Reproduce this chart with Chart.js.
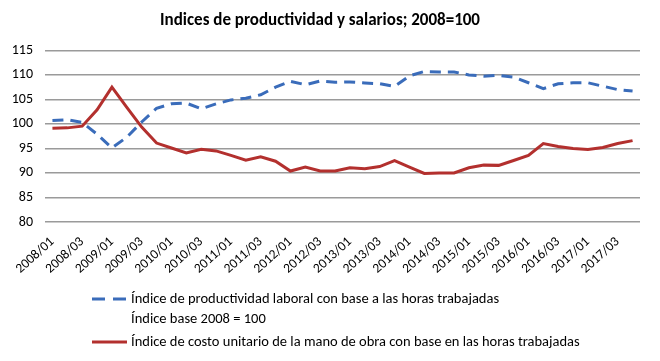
<!DOCTYPE html>
<html lang="es">
<head>
<meta charset="UTF-8">
<title>Indices de productividad y salarios</title>
<script src="https://cdn.jsdelivr.net/npm/chart.js"></script>
<style>
    html, body { margin: 0; padding: 0; background: #fff; }
</style>
</head>
<body>
<canvas id="grafico" width="660" height="361"></canvas>
<script>
// Trimestres 2008/01 - 2017/04
const trimestres = [
    '2008/01', '2008/02', '2008/03', '2008/04',
    '2009/01', '2009/02', '2009/03', '2009/04',
    '2010/01', '2010/02', '2010/03', '2010/04',
    '2011/01', '2011/02', '2011/03', '2011/04',
    '2012/01', '2012/02', '2012/03', '2012/04',
    '2013/01', '2013/02', '2013/03', '2013/04',
    '2014/01', '2014/02', '2014/03', '2014/04',
    '2015/01', '2015/02', '2015/03', '2015/04',
    '2016/01', '2016/02', '2016/03', '2016/04',
    '2017/01', '2017/02', '2017/03', '2017/04'
];

// Índice de productividad laboral (horas trabajadas)
const productividad = [
    100.7, 100.85, 100.3, 97.9, 95.1, 97.3, 100.4, 103.2, 104.1, 104.25,
    103.1, 104.1, 104.9, 105.25, 105.95, 107.5, 108.7, 108.0, 108.75, 108.5,
    108.55, 108.35, 108.2, 107.65, 109.8, 110.7, 110.6, 110.6, 110.0, 109.75,
    109.9, 109.55, 108.4, 107.2, 108.2, 108.4, 108.4, 107.7, 107.0, 106.7
];

// Índice de costo unitario de la mano de obra (horas trabajadas)
const costoUnitario = [
    99.1, 99.2, 99.55, 102.9, 107.5, 103.4, 99.35, 96.1, 95.1, 94.1,
    94.85, 94.5, 93.6, 92.6, 93.3, 92.4, 90.4, 91.2, 90.4, 90.4,
    91.05, 90.85, 91.3, 92.5, 91.2, 89.9, 90.0, 90.0, 91.05, 91.6,
    91.55, 92.55, 93.6, 96.0, 95.4, 95.0, 94.8, 95.2, 96.0, 96.6
];

const ejeYMin = 80;
const ejeYMax = 115;
const ejeYPaso = 5;

const titulo = 'Indices de productividad y salarios; 2008=100';
const leyendaProductividad = [
    'Índice de productividad laboral con base a las horas trabajadas',
    'Índice base 2008 = 100'
];
const leyendaCosto = [
    'Índice de costo unitario de la mano de obra con base en las horas trabajadas'
];

const fuente = 'Carlito, Calibri, "Liberation Sans", sans-serif';

// leyenda dibujada a mano (el texto va en dos renglones)
const leyenda = {
    id: 'leyenda',
    afterDraw(chart) {
        const ctx = chart.ctx;
        const items = [
            { ds: chart.data.datasets[0], lineas: leyendaProductividad, y: 299, dash: [13, 8] },
            { ds: chart.data.datasets[1], lineas: leyendaCosto, y: 342, dash: [] }
        ];
        ctx.save();
        ctx.font = '14.5px ' + fuente;
        ctx.fillStyle = '#000';
        ctx.textBaseline = 'middle';
        items.forEach(it => {
            ctx.strokeStyle = it.ds.borderColor;
            ctx.lineWidth = it.ds.borderWidth;
            ctx.setLineDash(it.dash);
            ctx.beginPath();
            ctx.moveTo(92, it.y);
            ctx.lineTo(127, it.y);
            ctx.stroke();
            it.lineas.forEach((t, k) => ctx.fillText(t, 131, it.y + k * 20));
        });
        ctx.restore();
    }
};

const ctx = document.getElementById('grafico').getContext('2d');
new Chart(ctx, {
    type: 'line',
    data: {
        labels: trimestres,
        datasets: [{
            label: leyendaProductividad.join(' '),
            data: productividad,
            borderColor: '#3a6cba',
            borderWidth: 3,
            borderDash: [11, 7],
            pointRadius: 0,
            fill: false,
            tension: 0
        }, {
            label: leyendaCosto[0],
            data: costoUnitario,
            borderColor: '#b3302e',
            borderWidth: 3,
            pointRadius: 0,
            fill: false,
            tension: 0
        }]
    },
    options: {
        responsive: false,
        animation: false,
        devicePixelRatio: 1,
        layout: { padding: { left: 0, right: 20, top: 0, bottom: 0 } },
        plugins: {
            legend: { display: false },
            tooltip: { enabled: false },
            title: {
                display: true,
                text: titulo,
                color: '#000',
                font: { family: fuente, size: 17, weight: 'bold' },
                padding: { top: 11, bottom: 19 }
            }
        },
        scales: {
            x: {
                offset: true,
                grid: { display: false },
                border: { display: false },
                afterFit(scale) { scale.height = 139; },
                ticks: {
                    autoSkip: false,
                    maxRotation: 42,
                    minRotation: 42,
                    padding: 4,
                    color: '#000',
                    font: { family: fuente, size: 13.5 },
                    callback(val, i) { return i % 2 === 0 ? this.getLabelForValue(val) : ''; }
                }
            },
            y: {
                min: ejeYMin,
                max: ejeYMax,
                border: { display: false },
                grid: { color: '#9a9a9a', lineWidth: 1.5, drawTicks: false },
                afterFit(scale) { scale.width = 45; },
                ticks: {
                    stepSize: ejeYPaso,
                    padding: 12,
                    color: '#000',
                    font: { family: fuente, size: 14 }
                }
            }
        }
    },
    plugins: [leyenda]
});
</script>
</body>
</html>
